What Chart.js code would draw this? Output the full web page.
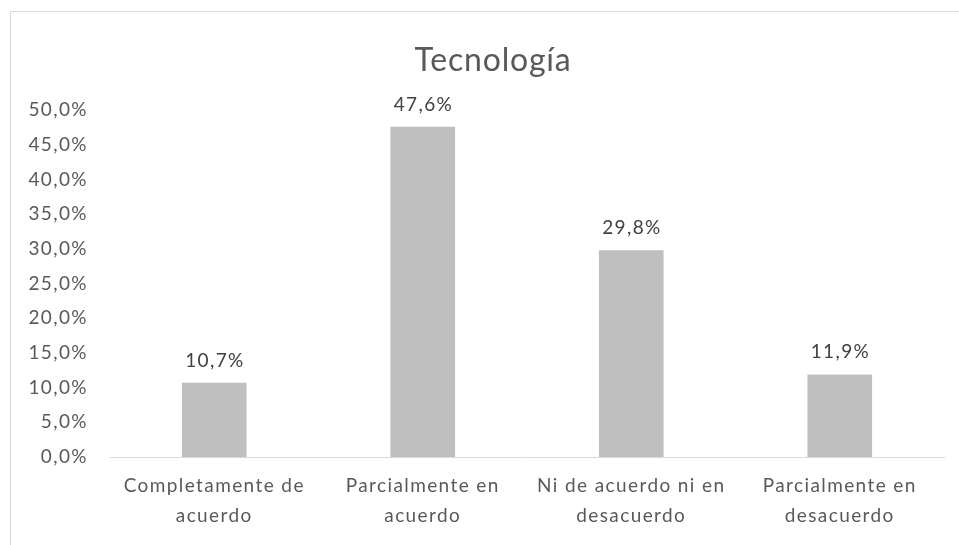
<!DOCTYPE html>
<html><head><meta charset="utf-8">
<script src="https://cdn.jsdelivr.net/npm/chart.js@4/dist/chart.umd.min.js"></script>
<style>
html,body{margin:0;padding:0;background:#fff;}
#wrap{position:relative;width:959px;height:545px;overflow:hidden;}
#frame{position:absolute;left:10px;top:11px;width:1000px;height:600px;border-top:1px solid #d9d9d9;border-left:1px solid #d9d9d9;}
canvas{position:absolute;left:0;top:0;}
</style></head>
<body><div id="wrap"><div id="frame"></div><canvas id="c" width="959" height="545"></canvas></div>
<script>
const chartTitle = "Tecnología";
const categories = [["Completamente de","acuerdo"],["Parcialmente en","acuerdo"],["Ni de acuerdo ni en","desacuerdo"],["Parcialmente en","desacuerdo"]];
const values = [10.7, 47.6, 29.8, 11.9];
const yTicks = [0,5,10,15,20,25,30,35,40,45,50];
const fmt = v => v.toFixed(1).replace('.', ',') + '%';
const FONT = "Lato, 'Open Sans', sans-serif";

const spacing = {
  id:'spacing',
  beforeDraw(chart){ chart.ctx.letterSpacing = '1.4px'; }
};

const overlay = {
  id:'overlay',
  afterDatasetsDraw(chart){
    const ctx = chart.ctx;
    const meta = chart.getDatasetMeta(0);
    ctx.save();
    ctx.letterSpacing = '1.4px';
    ctx.fillStyle = '#404040';
    ctx.font = "19px " + FONT;
    ctx.textAlign = 'center';
    ctx.textBaseline = 'alphabetic';
    meta.data.forEach((bar,i)=>{
      ctx.fillText(fmt(values[i]), bar.x + 0.7, bar.y - 16);
    });
    ctx.letterSpacing = '0.8px';
    ctx.fillStyle = '#595959';
    ctx.font = "32px " + FONT;
    ctx.fillText(chartTitle, (chart.chartArea.left+chart.chartArea.right)/2 - 34, 71);
    ctx.restore();
  }
};

new Chart(document.getElementById('c'), {
  type:'bar',
  data:{labels:categories, datasets:[{data:values, backgroundColor:'#bfbfbf', categoryPercentage:1, barPercentage:0.31}]},
  options:{
    responsive:false, animation:false,
    layout:{padding:{left:10,right:15,top:110,bottom:0}},
    plugins:{legend:{display:false}, title:{display:false}, tooltip:{enabled:false}},
    scales:{
      x:{
        grid:{display:false, drawTicks:false},
        border:{color:'#d9d9d9', width:1},
        ticks:{color:'#595959', font:{family:FONT, size:19, lineHeight:'30px'}, padding:14, maxRotation:0, autoSkip:false},
        afterFit(s){ s.height = 88; }
      },
      y:{
        min:0, max:50,
        afterBuildTicks(s){ s.ticks = yTicks.map(v=>({value:v})); },
        grid:{display:false, drawTicks:false},
        border:{display:false},
        ticks:{color:'#595959', font:{family:FONT, size:19}, padding:22, callback:v=>fmt(v)},
        afterFit(s){ s.width = 100; }
      }
    }
  },
  plugins:[spacing, overlay]
});
</script></body></html>
